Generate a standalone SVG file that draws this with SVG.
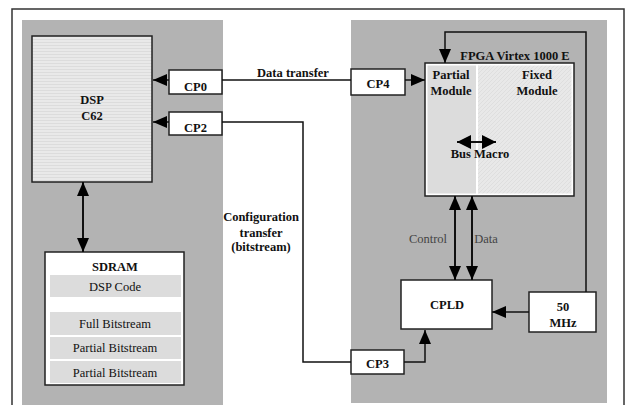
<svg xmlns="http://www.w3.org/2000/svg" width="627" height="405" viewBox="0 0 627 405" font-family="Liberation Serif, Times New Roman, Tinos, Noto Serif, DejaVu Serif, serif">
<style>
text{font-family:"Liberation Serif","Times New Roman",Tinos,"Noto Serif","DejaVu Serif",serif;font-size:12.5px;fill:#111;text-anchor:middle}
.b{font-weight:bold}
.g{fill:#444}
.box{fill:#fff;stroke:#222;stroke-width:1.5}
.row{fill:#dcdcdc}
.ln{fill:none;stroke:#111;stroke-width:1.5}
.th{fill:none;stroke:#111;stroke-width:2}
.panel{fill:#b3b3b3}
</style>
<defs>
<marker id="ah" markerUnits="userSpaceOnUse" viewBox="0 0 14 12" refX="14" refY="6" markerWidth="14" markerHeight="12" orient="auto-start-reverse">
<path d="M0,0 L14,6 L0,12 z" fill="#000"/>
</marker>
<marker id="ahb" markerUnits="userSpaceOnUse" viewBox="0 0 14 14" refX="14" refY="7" markerWidth="14" markerHeight="14" orient="auto-start-reverse">
<path d="M0,0 L14,7 L0,14 z" fill="#000"/>
</marker>
<pattern id="stripe" width="4" height="3" patternUnits="userSpaceOnUse">
<rect width="4" height="3" fill="#e9e9e9"/>
<rect width="4" height="1" fill="#dcdcdc"/>
</pattern>
<pattern id="hatch" width="4" height="4" patternUnits="userSpaceOnUse">
<rect width="4" height="4" fill="#e8e8e8"/>
<path d="M0,4 L4,0" stroke="#dcdcdc" stroke-width="0.8"/>
</pattern>
</defs>
<rect x="0" y="0" width="627" height="405" fill="#fff"/>
<rect x="12" y="9" width="612" height="410" fill="none" stroke="#333" stroke-width="1.5"/>
<rect class="panel" x="22" y="20" width="201" height="385"/>
<rect class="panel" x="351" y="20" width="256" height="383"/>

<g id="dsp">
<rect x="32" y="36" width="120" height="146" fill="url(#stripe)" stroke="#222" stroke-width="1.5"/>
<text class="b" x="92" y="104">DSP</text>
<text class="b" x="92" y="120">C62</text>
</g>
<g id="cp0"><rect class="box" x="169" y="70" width="53" height="24"/><text class="b" x="195.5" y="91">CP0</text></g>
<g id="cp2"><rect class="box" x="169" y="112" width="53" height="23"/><text class="b" x="195.5" y="132">CP2</text></g>
<g id="cp4"><rect class="box" x="351" y="69" width="54" height="26"/><text class="b" x="378" y="88">CP4</text></g>
<g id="cp3"><rect class="box" x="351" y="350" width="53" height="24"/><text class="b" x="377.5" y="368">CP3</text></g>

<g id="sdram">
<rect class="box" x="45" y="252" width="139" height="133"/>
<text class="b" x="115" y="271">SDRAM</text>
<rect class="row" x="50" y="275" width="131" height="22"/>
<text x="115" y="291">DSP Code</text>
<rect class="row" x="50" y="312" width="131" height="23"/>
<text x="115" y="328">Full Bitstream</text>
<rect class="row" x="50" y="337" width="131" height="22"/>
<text x="115" y="352">Partial Bitstream</text>
<rect class="row" x="50" y="361" width="131" height="22"/>
<text x="115" y="377">Partial Bitstream</text>
</g>

<g id="fpga">
<rect x="425" y="63" width="149" height="133" fill="#fff" stroke="#222" stroke-width="1.5"/>
<rect x="427.5" y="65.5" width="48.5" height="128" fill="#dcdcdc"/>
<rect x="478" y="65.5" width="93.5" height="128" fill="url(#hatch)"/>
<text class="b" x="515" y="60">FPGA Virtex 1000 E</text>
<text class="b" x="451" y="79">Partial</text>
<text class="b" x="451" y="95">Module</text>
<text class="b" x="537" y="79">Fixed</text>
<text class="b" x="537" y="95">Module</text>
<text class="b" x="480" y="158">Bus Macro</text>
</g>

<g id="cpld"><rect class="box" x="401" y="280" width="91" height="49"/><text class="b" x="447" y="309">CPLD</text></g>
<g id="clk"><rect class="box" x="529" y="292" width="67" height="40"/><text class="b" x="563" y="311">50</text><text class="b" x="563" y="327">MHz</text></g>

<g id="connectors">
<line class="ln" x1="222" y1="80" x2="351" y2="80"/>
<line class="ln" x1="169" y1="80" x2="153" y2="80" marker-end="url(#ah)"/>
<line class="ln" x1="169" y1="122" x2="153" y2="122" marker-end="url(#ah)"/>
<path class="ln" d="M222,122 H303 V362 H351"/>
<line class="ln" x1="405" y1="80" x2="425" y2="80" marker-end="url(#ah)"/>
<path class="ln" d="M586,292 V32 H445 V63" marker-end="url(#ah)"/>
<line class="th" x1="455" y1="196" x2="455" y2="280" marker-start="url(#ah)" marker-end="url(#ah)"/>
<line class="th" x1="472" y1="196" x2="472" y2="280" marker-start="url(#ah)" marker-end="url(#ah)"/>
<line class="ln" x1="529" y1="312" x2="492" y2="312" marker-end="url(#ah)"/>
<path class="ln" d="M404,362 H425 V330" marker-end="url(#ah)"/>
<line class="th" x1="83" y1="182" x2="83" y2="252" marker-start="url(#ah)" marker-end="url(#ah)"/>
<line class="th" x1="457" y1="142" x2="496" y2="142" marker-start="url(#ahb)" marker-end="url(#ahb)"/>
<text class="b" x="293" y="77">Data transfer</text>
<text class="b" x="261" y="221">Configuration</text>
<text class="b" x="261" y="237">transfer</text>
<text class="b" x="261" y="251">(bitstream)</text>
<text class="g" x="428" y="243">Control</text>
<text class="g" x="486" y="243">Data</text>
</g>
</svg>
